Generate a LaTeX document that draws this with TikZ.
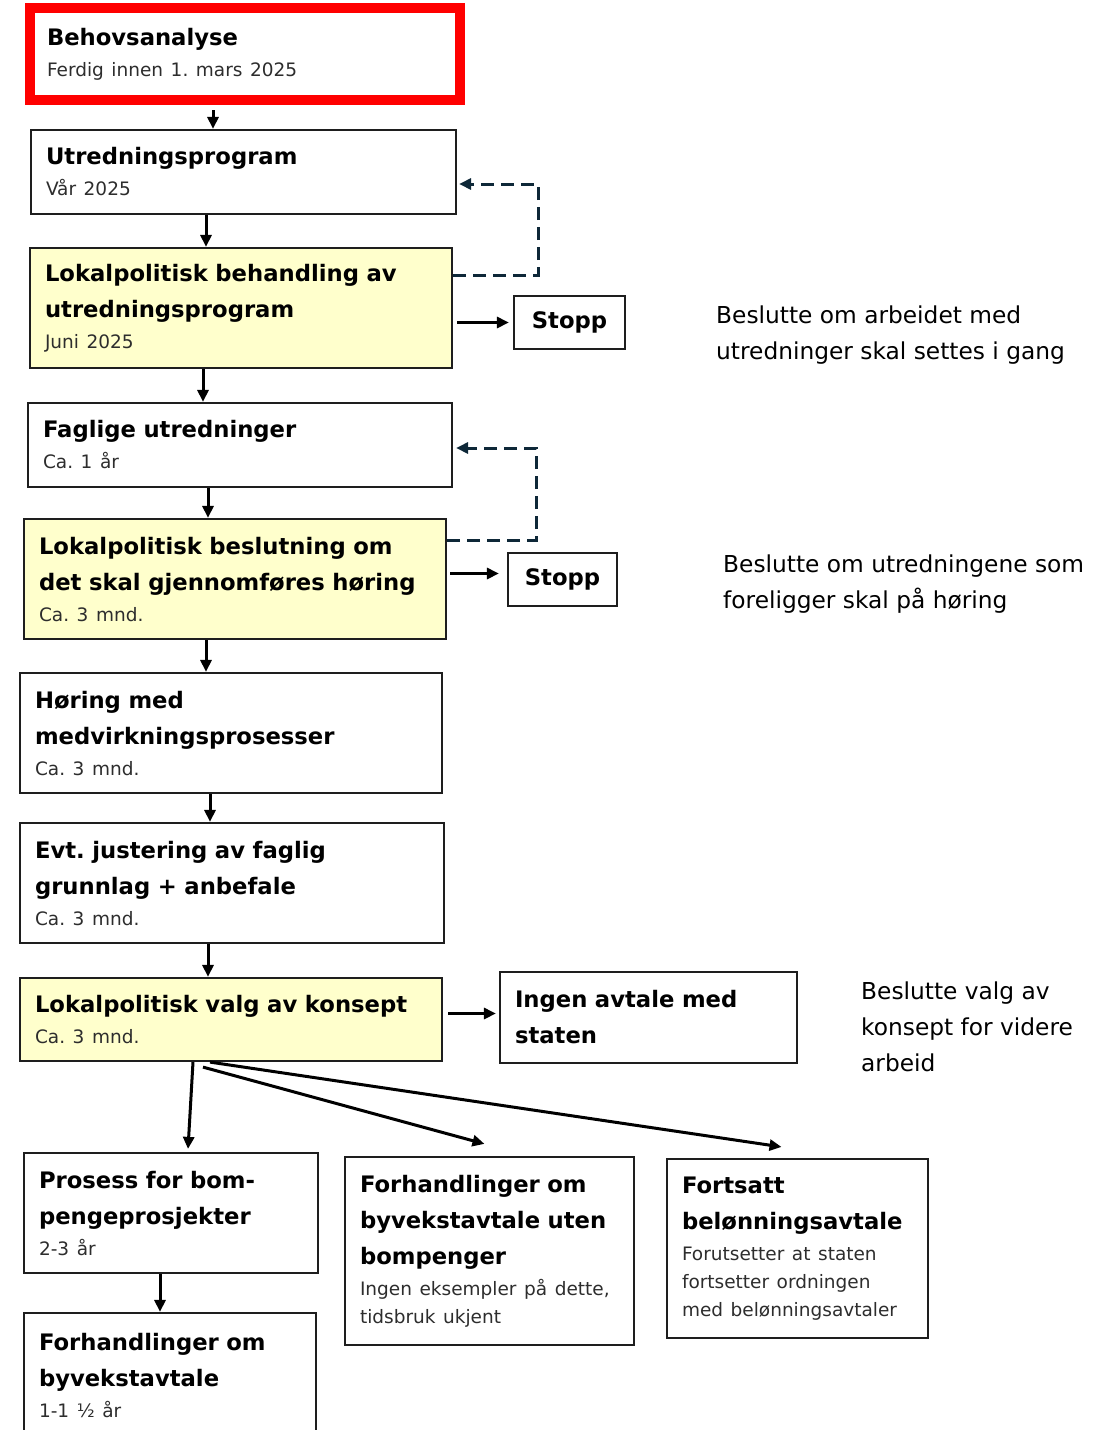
\documentclass[tikz,border=0pt]{standalone}
\usepackage{fontspec}
\setmainfont{DejaVu Sans}
\usetikzlibrary{arrows.meta,positioning,calc}
\definecolor{alertred}{RGB}{255,0,0}
\definecolor{councilyellow}{RGB}{255,255,204}
\definecolor{loopnavy}{RGB}{14,40,56}
\definecolor{framegray}{RGB}{30,30,30}
\definecolor{notegray}{RGB}{45,45,45}
\frenchspacing
\newcommand{\stagefont}{\fontsize{22.7}{36}\selectfont\bfseries}
\newcommand{\stagenote}[1]{\par{\fontsize{18.5}{31}\selectfont\mdseries\color{notegray}#1\par}}
\tikzset{stage/.style={draw=framegray, fill=#1, line width=2.2pt, inner xsep=15pt,
             inner ysep=0pt, align=left, font=\stagefont},
         stage/.default=white,
         stopbox/.style={draw=framegray, fill=white, line width=2.2pt, align=center,
             font=\stagefont},
         flow/.style={-{Triangle[length=12pt,width=11pt]}, line width=3pt, black},
         loopback/.style={-{Triangle[length=12pt,width=11pt]}, line width=3pt,
             loopnavy, dash pattern=on 13pt off 7pt},
         sidenote/.style={anchor=west, align=left, inner sep=0pt,
             font=\fontsize{23.3}{36}\selectfont}}

\begin{document}
\begin{tikzpicture}[x=1pt,y=-1pt]
  \useasboundingbox (0,0) rectangle (1104,1430);
  \clip (0,0) rectangle (1104,1430);
  % main column
  \node[stage, draw=alertred, line width=10pt, inner xsep=17pt, text width=396pt,
        minimum height=92pt] (behov) at (245,54) {Behovsanalyse\stagenote{Ferdig innen 1. mars 2025}};
  \node[stage, text width=395pt, minimum height=84pt] (utredprog) at (243.5,172)
        {Utredningsprogram\stagenote{Vår 2025}};
  \node[stage=councilyellow, text width=392pt, minimum height=120pt] (lokbeh) at (241,308)
        {Lokalpolitisk behandling av\\utredningsprogram\stagenote{Juni 2025}};
  \node[stopbox, minimum width=111pt, minimum height=53pt] (stopp1) at (569.5,322.5) {Stopp};
  \node[stage, text width=394pt, minimum height=84pt] (faglige) at (240,445)
        {Faglige utredninger\stagenote{Ca. 1 år}};
  \node[stage=councilyellow, text width=392pt, minimum height=120pt] (lokhor) at (235,579)
        {Lokalpolitisk beslutning om\\det skal gjennomføres høring\stagenote{Ca. 3 mnd.}};
  \node[stopbox, minimum width=109pt, minimum height=53pt] (stopp2) at (562.5,579.5) {Stopp};
  \node[stage, text width=392pt, minimum height=120pt] (horing) at (231,733)
        {Høring med\\medvirkningsprosesser\stagenote{Ca. 3 mnd.}};
  \node[stage, text width=394pt, minimum height=120pt] (justering) at (232,883)
        {Evt. justering av faglig\\grunnlag + anbefale\stagenote{Ca. 3 mnd.}};
  \node[stage=councilyellow, text width=392pt, minimum height=83pt] (konsept) at (231,1019.5)
        {Lokalpolitisk valg av konsept\stagenote{Ca. 3 mnd.}};
  \node[stage, text width=267pt, minimum height=91pt] (ingenavtale) at (648.5,1017.5)
        {Ingen avtale med\\staten};
  % outcomes
  \node[stage, text width=264pt, minimum height=120pt] (bompenger) at (171,1213)
        {Prosess for bom-\\pengeprosjekter\stagenote{2-3 år}};
  \node[stage, text width=262pt, minimum height=124pt] (byvekst) at (170,1375)
        {Forhandlinger om\\byvekstavtale\stagenote{1-1 ½ år}};
  \node[stage, text width=259pt, minimum height=188pt] (utenbom) at (489.5,1251)
        {Forhandlinger om\\byvekstavtale uten\\bompenger\stagenote{Ingen eksempler på dette,\\[-3pt]tidsbruk ukjent}};
  \node[stage, text width=231pt, minimum height=179pt] (belonning) at (797.5,1248.5)
        {Fortsatt\\belønningsavtale\stagenote{Forutsetter at staten\\[-3pt]fortsetter ordningen\\[-3pt]med belønningsavtaler}};
  % decisions
  \node[sidenote] (note1) at (716,335) {Beslutte om arbeidet med\\utredninger skal settes i gang};
  \node[sidenote] (note2) at (723,584) {Beslutte om utredningene som\\foreligger skal på høring};
  \node[sidenote] (note3) at (861,1027) {Beslutte valg av\\konsept for videre\\arbeid};

  % arrows down the column
  \draw[flow, shorten <=5pt] ([xshift=-32pt]behov.south) -- ([xshift=-32pt]behov.south |- utredprog.north);
  \draw[flow] ([xshift=-37.5pt]utredprog.south) -- ([xshift=-37.5pt]utredprog.south |- lokbeh.north);
  \draw[flow] ([xshift=-38pt]lokbeh.south) -- ([xshift=-38pt]lokbeh.south |- faglige.north);
  \draw[flow] ([xshift=-32pt]faglige.south) -- ([xshift=-32pt]faglige.south |- lokhor.north);
  \draw[flow] ([xshift=-29pt]lokhor.south) -- ([xshift=-29pt]lokhor.south |- horing.north);
  \draw[flow] ([xshift=-21pt]horing.south) -- ([xshift=-21pt]horing.south |- justering.north);
  \draw[flow] ([xshift=-24pt]justering.south) -- ([xshift=-24pt]justering.south |- konsept.north);
  \draw[flow] ([xshift=-11pt]bompenger.south) -- ([xshift=-11pt]bompenger.south |- byvekst.north);
  % stop branches
  \draw[flow, shorten >=4pt] ([xshift=4pt]lokbeh.east |- stopp1.west) -- (stopp1.west);
  \draw[flow, shorten >=8pt] ([xshift=3pt,yshift=6pt]lokhor.east |- stopp2.west) -- ([yshift=6pt]stopp2.west);
  \draw[flow, shorten >=3pt] ([xshift=5pt,yshift=4pt]konsept.east |- ingenavtale.west) -- ([yshift=4pt]ingenavtale.west);
  % loops back
  \draw[loopback] ([yshift=33pt]lokbeh.east) -- ++(85,0) |- ([xshift=2pt,yshift=-12pt]utredprog.east);
  \draw[loopback] ([yshift=39pt]lokhor.east) -- ++(89,0) |- ([xshift=3pt,yshift=-3pt]faglige.east);
  % choice of concept
  \draw[flow] ([xshift=-38pt]konsept.south) -- ([xshift=17pt,yshift=3pt]bompenger.north);
  \draw[flow] ([xshift=-28pt,yshift=-5pt]konsept.south) -- ([xshift=-5pt,yshift=12pt]utenbom.north);
  \draw[flow] ([xshift=-21pt]konsept.south) -- ([xshift=-16pt,yshift=11pt]belonning.north);
\end{tikzpicture}
\end{document}
